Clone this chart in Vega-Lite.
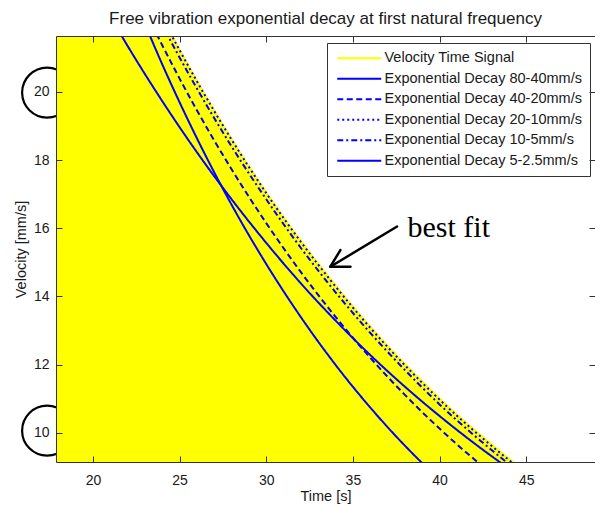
{
  "$schema": "https://vega.github.io/schema/vega-lite/v6.json",
  "width": 539,
  "height": 426,
  "autosize": "none",
  "padding": {"left": 56, "top": 36, "right": 0, "bottom": 44},
  "background": "white",
  "title": {"text": "Free vibration exponential decay at first natural frequency", "font": "Liberation Sans", "fontSize": 17, "fontWeight": "normal", "color": "#1a1a1a", "offset": 8, "anchor": "middle"},
  "config": {"view": {"stroke": null}},
  "datasets": {
    "marks": [{"t": 17.357, "v": 19.98}, {"t": 17.357, "v": 10.06}],
    "envelope": [
      {"t": 17.5, "v": 30}, {"t": 22, "v": 24.3}, {"t": 24, "v": 22.26}, {"t": 26, "v": 20.39}, {"t": 28, "v": 18.68}, {"t": 30, "v": 17.11}, {"t": 32, "v": 15.68}, {"t": 34, "v": 14.37}, {"t": 36, "v": 13.16}, {"t": 38, "v": 12.06}, {"t": 40, "v": 11.05}, {"t": 42, "v": 10.13}, {"t": 44, "v": 9.28}, {"t": 46, "v": 8.5}, {"t": 48, "v": 7.8}
    ],
    "curves": [
      {"series": "Exponential Decay 80-40mm/s", "t": 22, "v": 23.23},
      {"series": "Exponential Decay 80-40mm/s", "t": 24, "v": 20.81},
      {"series": "Exponential Decay 80-40mm/s", "t": 26, "v": 18.64},
      {"series": "Exponential Decay 80-40mm/s", "t": 28, "v": 16.69},
      {"series": "Exponential Decay 80-40mm/s", "t": 30, "v": 14.95},
      {"series": "Exponential Decay 80-40mm/s", "t": 32, "v": 13.39},
      {"series": "Exponential Decay 80-40mm/s", "t": 34, "v": 11.99},
      {"series": "Exponential Decay 80-40mm/s", "t": 36, "v": 10.74},
      {"series": "Exponential Decay 80-40mm/s", "t": 38, "v": 9.62},
      {"series": "Exponential Decay 80-40mm/s", "t": 40, "v": 8.62},
      {"series": "Exponential Decay 40-20mm/s", "t": 22, "v": 23.46},
      {"series": "Exponential Decay 40-20mm/s", "t": 24, "v": 21.37},
      {"series": "Exponential Decay 40-20mm/s", "t": 26, "v": 19.46},
      {"series": "Exponential Decay 40-20mm/s", "t": 28, "v": 17.73},
      {"series": "Exponential Decay 40-20mm/s", "t": 30, "v": 16.15},
      {"series": "Exponential Decay 40-20mm/s", "t": 32, "v": 14.71},
      {"series": "Exponential Decay 40-20mm/s", "t": 34, "v": 13.4},
      {"series": "Exponential Decay 40-20mm/s", "t": 36, "v": 12.2},
      {"series": "Exponential Decay 40-20mm/s", "t": 38, "v": 11.11},
      {"series": "Exponential Decay 40-20mm/s", "t": 40, "v": 10.12},
      {"series": "Exponential Decay 40-20mm/s", "t": 42, "v": 9.22},
      {"series": "Exponential Decay 40-20mm/s", "t": 44, "v": 8.4},
      {"series": "Exponential Decay 20-10mm/s", "t": 22, "v": 24.22},
      {"series": "Exponential Decay 20-10mm/s", "t": 24, "v": 22.18},
      {"series": "Exponential Decay 20-10mm/s", "t": 26, "v": 20.31},
      {"series": "Exponential Decay 20-10mm/s", "t": 28, "v": 18.6},
      {"series": "Exponential Decay 20-10mm/s", "t": 30, "v": 17.03},
      {"series": "Exponential Decay 20-10mm/s", "t": 32, "v": 15.6},
      {"series": "Exponential Decay 20-10mm/s", "t": 34, "v": 14.29},
      {"series": "Exponential Decay 20-10mm/s", "t": 36, "v": 13.08},
      {"series": "Exponential Decay 20-10mm/s", "t": 38, "v": 11.98},
      {"series": "Exponential Decay 20-10mm/s", "t": 40, "v": 10.97},
      {"series": "Exponential Decay 20-10mm/s", "t": 42, "v": 10.05},
      {"series": "Exponential Decay 20-10mm/s", "t": 44, "v": 9.2},
      {"series": "Exponential Decay 20-10mm/s", "t": 46, "v": 8.43},
      {"series": "Exponential Decay 10-5mm/s", "t": 22, "v": 23.99},
      {"series": "Exponential Decay 10-5mm/s", "t": 24, "v": 21.96},
      {"series": "Exponential Decay 10-5mm/s", "t": 26, "v": 20.1},
      {"series": "Exponential Decay 10-5mm/s", "t": 28, "v": 18.4},
      {"series": "Exponential Decay 10-5mm/s", "t": 30, "v": 16.85},
      {"series": "Exponential Decay 10-5mm/s", "t": 32, "v": 15.42},
      {"series": "Exponential Decay 10-5mm/s", "t": 34, "v": 14.12},
      {"series": "Exponential Decay 10-5mm/s", "t": 36, "v": 12.93},
      {"series": "Exponential Decay 10-5mm/s", "t": 38, "v": 11.84},
      {"series": "Exponential Decay 10-5mm/s", "t": 40, "v": 10.83},
      {"series": "Exponential Decay 10-5mm/s", "t": 42, "v": 9.92},
      {"series": "Exponential Decay 10-5mm/s", "t": 44, "v": 9.08},
      {"series": "Exponential Decay 10-5mm/s", "t": 46, "v": 8.31},
      {"series": "Exponential Decay 5-2.5mm/s", "t": 20, "v": 23.11},
      {"series": "Exponential Decay 5-2.5mm/s", "t": 22, "v": 21.35},
      {"series": "Exponential Decay 5-2.5mm/s", "t": 24, "v": 19.73},
      {"series": "Exponential Decay 5-2.5mm/s", "t": 26, "v": 18.23},
      {"series": "Exponential Decay 5-2.5mm/s", "t": 28, "v": 16.85},
      {"series": "Exponential Decay 5-2.5mm/s", "t": 30, "v": 15.57},
      {"series": "Exponential Decay 5-2.5mm/s", "t": 32, "v": 14.38},
      {"series": "Exponential Decay 5-2.5mm/s", "t": 34, "v": 13.29},
      {"series": "Exponential Decay 5-2.5mm/s", "t": 36, "v": 12.28},
      {"series": "Exponential Decay 5-2.5mm/s", "t": 38, "v": 11.35},
      {"series": "Exponential Decay 5-2.5mm/s", "t": 40, "v": 10.49},
      {"series": "Exponential Decay 5-2.5mm/s", "t": 42, "v": 9.69},
      {"series": "Exponential Decay 5-2.5mm/s", "t": 44, "v": 8.95},
      {"series": "Exponential Decay 5-2.5mm/s", "t": 46, "v": 8.27}
    ],
    "arrow": [
      {"t1": 37.55, "v1": 16.05, "t2": 33.7, "v2": 14.87},
      {"t1": 33.7, "v1": 14.87, "t2": 34.28, "v2": 15.36},
      {"t1": 33.7, "v1": 14.87, "t2": 34.86, "v2": 14.87}
    ],
    "note": [{"t": 38.15, "v": 15.745, "label": "best fit"}]
  },
  "layer": [
    {
      "data": {"name": "marks"},
      "mark": {"type": "point", "shape": "circle", "size": 2500, "filled": false, "color": "black", "strokeWidth": 2.2, "opacity": 1},
      "encoding": {
        "x": {"field": "t", "type": "quantitative", "scale": {"domain": [17.87, 48.97], "nice": false, "zero": false},
          "axis": {"orient": "bottom", "title": "Time [s]", "values": [20, 25, 30, 35, 40, 45], "grid": false, "tickSize": -6, "tickColor": "#333", "domainColor": "#333", "labelFont": "Liberation Sans", "labelFontSize": 14, "labelColor": "#1a1a1a", "labelPadding": 17, "titleFont": "Liberation Sans", "titleFontSize": 14.5, "titleFontWeight": "normal", "titleColor": "#1a1a1a", "titlePadding": 2, "zindex": 1, "format": "d"}},
        "y": {"field": "v", "type": "quantitative", "scale": {"domain": [9.14, 21.64], "nice": false, "zero": false},
          "axis": {"orient": "left", "title": "Velocity [mm/s]", "values": [10, 12, 14, 16, 18, 20], "grid": false, "tickSize": -6, "tickColor": "#333", "domainColor": "#333", "labelFont": "Liberation Sans", "labelFontSize": 14, "labelColor": "#1a1a1a", "labelPadding": 13, "titleFont": "Liberation Sans", "titleFontSize": 14.5, "titleFontWeight": "normal", "titleColor": "#1a1a1a", "titlePadding": 5, "zindex": 1, "format": "d"}}
      }
    },
    {
      "data": {"name": "envelope"},
      "mark": {"type": "area", "color": "#FFFF00", "clip": true, "interpolate": "monotone", "opacity": 1},
      "encoding": {
        "x": {"field": "t", "type": "quantitative", "scale": {"domain": [17.87, 48.97], "nice": false, "zero": false},
          "axis": {"orient": "top", "title": null, "labels": false, "values": [20, 25, 30, 35, 40, 45], "grid": false, "tickSize": -6, "tickColor": "#333", "domainColor": "#333", "zindex": 1}},
        "y": {"field": "v", "type": "quantitative", "scale": {"domain": [9.14, 21.64], "nice": false, "zero": false},
          "axis": {"orient": "right", "title": null, "labels": false, "values": [10, 12, 14, 16, 18, 20], "grid": false, "tickSize": -6, "tickColor": "#333", "domain": false, "zindex": 1}},
        "y2": {"datum": 5}
      }
    },
    {
      "data": {"name": "curves"},
      "mark": {"type": "line", "clip": true, "interpolate": "monotone", "strokeWidth": 2},
      "encoding": {
        "x": {"field": "t", "type": "quantitative", "axis": null},
        "y": {"field": "v", "type": "quantitative", "axis": null},
        "color": {"field": "series", "type": "nominal",
          "scale": {"domain": ["Velocity Time Signal", "Exponential Decay 80-40mm/s", "Exponential Decay 40-20mm/s", "Exponential Decay 20-10mm/s", "Exponential Decay 10-5mm/s", "Exponential Decay 5-2.5mm/s"], "range": ["#FFFF00", "#0000FF", "#0000FF", "#0000FF", "#0000FF", "#0000FF"]},
          "legend": {"orient": "none", "legendX": 271, "legendY": 7, "title": null, "symbolType": "M-4.4,0H4.4", "symbolSize": 100, "symbolOffset": 17, "symbolStrokeWidth": 2, "labelFont": "Liberation Sans", "labelFontSize": 14.5, "labelColor": "#1a1a1a", "labelOffset": 18, "labelLimit": 400, "padding": 8, "rowPadding": 5.5, "strokeColor": "#333", "fillColor": "white", "cornerRadius": 0}},
        "strokeDash": {"field": "series", "type": "nominal",
          "scale": {"domain": ["Velocity Time Signal", "Exponential Decay 80-40mm/s", "Exponential Decay 40-20mm/s", "Exponential Decay 20-10mm/s", "Exponential Decay 10-5mm/s", "Exponential Decay 5-2.5mm/s"], "range": [[1, 0], [1, 0], [6, 3.5], [2, 3], [6, 3, 2, 3], [1, 0]]},
          "legend": {"orient": "none", "legendX": 271, "legendY": 7, "title": null, "symbolType": "M-4.4,0H4.4", "symbolSize": 100, "symbolOffset": 17, "symbolStrokeWidth": 2, "labelFont": "Liberation Sans", "labelFontSize": 14.5, "labelColor": "#1a1a1a", "labelOffset": 18, "labelLimit": 400, "padding": 8, "rowPadding": 5.5, "strokeColor": "#333", "fillColor": "white", "cornerRadius": 0}}
      }
    },
    {
      "data": {"name": "arrow"},
      "mark": {"type": "rule", "color": "black", "strokeWidth": 2.5, "strokeCap": "round"},
      "encoding": {
        "x": {"field": "t1", "type": "quantitative", "axis": null},
        "y": {"field": "v1", "type": "quantitative", "axis": null},
        "x2": {"field": "t2"},
        "y2": {"field": "v2"}
      }
    },
    {
      "data": {"name": "note"},
      "mark": {"type": "text", "font": "Liberation Serif", "fontSize": 30, "color": "black", "align": "left", "baseline": "alphabetic"},
      "encoding": {
        "x": {"field": "t", "type": "quantitative", "axis": null},
        "y": {"field": "v", "type": "quantitative", "axis": null},
        "text": {"field": "label"}
      }
    }
  ],
  "resolve": {"axis": {"x": "independent", "y": "independent"}}
}
